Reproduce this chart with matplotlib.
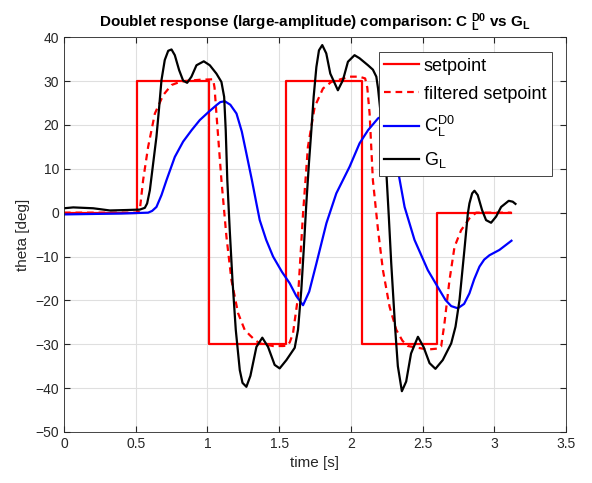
import matplotlib
matplotlib.use('Agg')
import matplotlib.pyplot as plt

plt.rcParams['font.family'] = ['Liberation Sans', 'DejaVu Sans']
plt.rcParams['mathtext.fontset'] = 'custom'
plt.rcParams['mathtext.rm'] = 'Liberation Sans'
plt.rcParams['mathtext.it'] = 'Liberation Sans'
plt.rcParams['mathtext.bf'] = 'Liberation Sans:bold'

# setpoint (step sequence)
sp_t = [0.0, 0.51, 0.51, 1.01, 1.01, 1.55, 1.55, 2.08, 2.08, 2.60, 2.60, 3.12]
sp_v = [0, 0, 30, 30, -30, -30, 30, 30, -30, -30, 0, 0]

# filtered setpoint
fs_t = [0.0, 0.51, 0.52, 0.529, 0.552, 0.587, 0.634, 0.692, 0.75, 0.80, 0.843, 0.95, 1.04,
        1.05, 1.063, 1.098, 1.133, 1.168, 1.214, 1.26, 1.295, 1.33, 1.365, 1.458, 1.527,
        1.56, 1.575, 1.597, 1.632, 1.667, 1.701, 1.748, 1.806, 1.864, 1.992, 2.06, 2.10,
        2.115, 2.131, 2.154, 2.19, 2.224, 2.27, 2.317, 2.36, 2.398, 2.537, 2.60, 2.63,
        2.653, 2.688, 2.723, 2.769, 2.827, 2.874, 3.0, 3.12]
fs_v = [0, 0, 0.2, 0.6, 7.4, 15.0, 22.6, 26.8, 29.1, 29.7, 30.0, 30.3, 30.4,
        28.5, 22.6, 7.4, -5.5, -15.4, -22.9, -26.7, -27.9, -29.0, -29.8, -30.4, -30.4,
        -30.3, -29.5, -27.5, -19.2, -0.2, 15.0, 24.1, 28.3, 29.8, 31.0, 31.0, 30.6,
        28.5, 22.6, 7.4, -4.0, -13.1, -21.4, -26.7, -29.2, -30.4, -31.2, -31.0, -30.5,
        -25.2, -15.4, -7.8, -4.0, -1.3, 0.0, 0.0, 0.0]

# C_L^D0 response
cl_t = [0.0, 0.2, 0.4, 0.587, 0.615, 0.645, 0.68, 0.715, 0.773, 0.831, 0.89, 0.947, 1.01,
        1.063, 1.09, 1.121, 1.16, 1.203, 1.24, 1.272, 1.31, 1.342, 1.365, 1.41, 1.458,
        1.52, 1.574, 1.62, 1.667, 1.71, 1.76, 1.83, 1.899, 1.992, 2.061, 2.12, 2.19,
        2.22, 2.27, 2.324, 2.375, 2.444, 2.537, 2.618, 2.66, 2.70, 2.746, 2.79, 2.827,
        2.86, 2.897, 2.93, 2.967, 3.036, 3.12]
cl_v = [-0.4, -0.3, -0.2, 0.0, 0.4, 1.3, 4.0, 7.4, 12.7, 16.2, 18.8, 21.1, 23.0,
        24.5, 25.2, 25.4, 24.6, 22.6, 18.5, 13.5, 7.5, 2.1, -1.7, -6.2, -10.0,
        -13.5, -16.1, -19.0, -21.1, -18.0, -11.6, -2.4, 4.4, 10.5, 15.8, 18.8, 21.5,
        22.0, 18.0, 10.5, 1.3, -6.2, -13.1, -17.6, -19.9, -21.3, -21.8, -20.8, -18.4,
        -15.2, -12.3, -10.7, -9.7, -8.5, -6.4]

# G_L response
gl_t = [0.0, 0.065, 0.204, 0.32, 0.437, 0.529, 0.564, 0.58, 0.599, 0.622, 0.645, 0.664,
        0.68, 0.703, 0.727, 0.75, 0.773, 0.803, 0.831, 0.859, 0.889, 0.924, 0.975,
        1.017, 1.063, 1.098, 1.117, 1.128, 1.139, 1.156, 1.175, 1.198, 1.226, 1.245,
        1.272, 1.30, 1.342, 1.383, 1.423, 1.469, 1.504, 1.551, 1.609, 1.632, 1.655,
        1.673, 1.69, 1.708, 1.725, 1.741, 1.76, 1.778, 1.801, 1.829, 1.857, 1.91,
        1.945, 1.98, 2.026, 2.061, 2.12, 2.154, 2.178, 2.19, 2.21, 2.23, 2.247, 2.265,
        2.282, 2.31, 2.328, 2.356, 2.386, 2.42, 2.468, 2.507, 2.549, 2.59, 2.641, 2.70,
        2.73, 2.758, 2.792, 2.816, 2.827, 2.846, 2.862, 2.885, 2.915, 2.943, 2.978,
        3.013, 3.048, 3.101, 3.129, 3.148]
gl_v = [1.0, 1.2, 1.0, 0.5, 0.6, 0.7, 1.1, 2.1, 5.1, 11.2, 17.3, 24.1,
        30.2, 34.8, 36.9, 37.2, 35.9, 32.5, 30.1, 29.6, 31.0, 33.6, 34.5,
        33.6, 31.7, 29.8, 26.4, 18.8, 7.4, -4.0, -15.4, -26.7, -35.9, -38.8,
        -39.7, -37.2, -30.6, -28.5, -30.6, -34.7, -35.5, -33.6, -30.8, -26.7, -17.6,
        -7.8, 2.1, 11.2, 18.8, 26.4, 33.2, 37.0, 38.2, 36.3, 31.7, 27.9,
        30.2, 34.4, 35.9, 35.2, 33.6, 32.6, 31.0, 28.3, 22.0, 15.0, 9.7, -0.9,
        -11.6, -26.7, -35.0, -40.7, -38.5, -32.1, -28.3, -30.6, -34.3, -35.6, -33.6, -29.8,
        -26.0, -19.9, -8.5, -0.2, 2.1, 4.4, 5.0, 4.0, 0.6, -1.7, -2.3,
        -0.9, 1.3, 2.7, 2.5, 2.0]

fig = plt.figure(figsize=(5.92, 4.83), dpi=100)
ax = fig.add_axes([0.108, 0.1056, 0.848, 0.8174])

ax.plot(sp_t, sp_v, color='#ff0000', lw=1.6, label='setpoint')
ax.plot(fs_t, fs_v, color='#ff0000', lw=1.6, ls=(0, (3, 2.2)), label='filtered setpoint')
ax.plot(cl_t, cl_v, color='#0000ff', lw=1.6, label=r'C$_\mathregular{L}^\mathregular{D0}$')
ax.plot(gl_t, gl_v, color='black', lw=1.6, label=r'G$_\mathregular{L}$')

ax.set_xlim(0, 3.5)
ax.set_ylim(-50, 40)
ax.set_xticks([0, 0.5, 1, 1.5, 2, 2.5, 3, 3.5])
ax.set_xticklabels(['0', '0.5', '1', '1.5', '2', '2.5', '3', '3.5'])
ax.set_yticks(range(-50, 41, 10))
ax.grid(True, color='#dfdfdf', lw=0.8)
ax.set_axisbelow(True)
ax.tick_params(direction='in', top=True, right=True, labelsize=10, colors='#262626', length=4)
for s in ax.spines.values():
    s.set_color('#262626')
    s.set_linewidth(0.6)

ax.set_xlabel('time [s]', fontsize=11, color='#262626')
ax.set_ylabel('theta [deg]', fontsize=11, color='#262626')
ax.set_title(r'Doublet response (large-amplitude) comparison: C $_\mathbf{L}^\mathbf{D0}$ vs G$_\mathbf{L}$',
             fontsize=11, fontweight='bold', pad=7)

leg = ax.legend(loc='upper right', bbox_to_anchor=(0.972, 0.962), fontsize=13,
                fancybox=False, framealpha=1, edgecolor='#262626',
                handlelength=1.9, handletextpad=0.3, borderaxespad=0,
                borderpad=0.3, labelspacing=0.62)
leg.get_frame().set_linewidth(0.6)

fig.savefig('out.png', dpi=100)
